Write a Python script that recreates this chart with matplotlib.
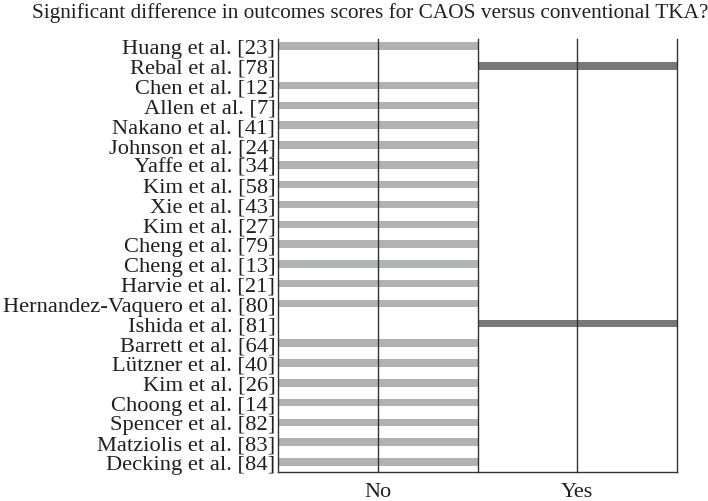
import matplotlib.pyplot as plt

studies = [
    "Huang et al. [23]", "Rebal et al. [78]", "Chen et al. [12]", "Allen et al. [7]",
    "Nakano et al. [41]", "Johnson et al. [24]", "Yaffe et al. [34]", "Kim et al. [58]",
    "Xie et al. [43]", "Kim et al. [27]", "Cheng et al. [79]", "Cheng et al. [13]",
    "Harvie et al. [21]", "Hernandez-Vaquero et al. [80]", "Ishida et al. [81]",
    "Barrett et al. [64]", "Lützner et al. [40]", "Kim et al. [26]", "Choong et al. [14]",
    "Spencer et al. [82]", "Matziolis et al. [83]", "Decking et al. [84]",
]
outcomes = [
    "No", "Yes", "No", "No", "No", "No", "No", "No", "No", "No", "No",
    "No", "No", "No", "Yes", "No", "No", "No", "No", "No", "No", "No",
]
categories = ["No", "Yes"]

plt.rcParams["font.family"] = ["Liberation Serif", "DejaVu Serif"]

fig = plt.figure(figsize=(7.08, 5.02), dpi=100)
ax = fig.add_axes([0.3927, 0.0578, 0.5635, 0.8625])

colors = {"No": "#b1b2b4", "Yes": "#77787b"}
for i, (s, o) in enumerate(zip(studies, outcomes)):
    k = categories.index(o)
    ax.barh(i, 2, left=2 * k, height=0.38, color=colors[o], zorder=1)

for x in [1, 2, 3, 4]:
    ax.axvline(x, color="#333333", lw=1.0, zorder=2, clip_on=False)

ax.set_xlim(0, 4)
ax.set_ylim(21.5, -0.35)
ax.set_yticks(range(len(studies)))
ax.set_yticklabels(studies, fontsize=16.2)
ax.set_xticks([1, 3])
ax.set_xticklabels(categories, fontsize=16)
ax.tick_params(length=0, pad=2, colors="#231f20")
ax.tick_params(axis="x", pad=7)

for side in ["top", "right"]:
    ax.spines[side].set_visible(False)
for side in ["left", "bottom"]:
    ax.spines[side].set_color("#333333")
    ax.spines[side].set_linewidth(1.0)

fig.text(0.523, 0.975, "Significant difference in outcomes scores for CAOS versus conventional TKA?",
         ha="center", va="center", fontsize=15.3, color="#231f20")

fig.savefig("out.png", dpi=100)
